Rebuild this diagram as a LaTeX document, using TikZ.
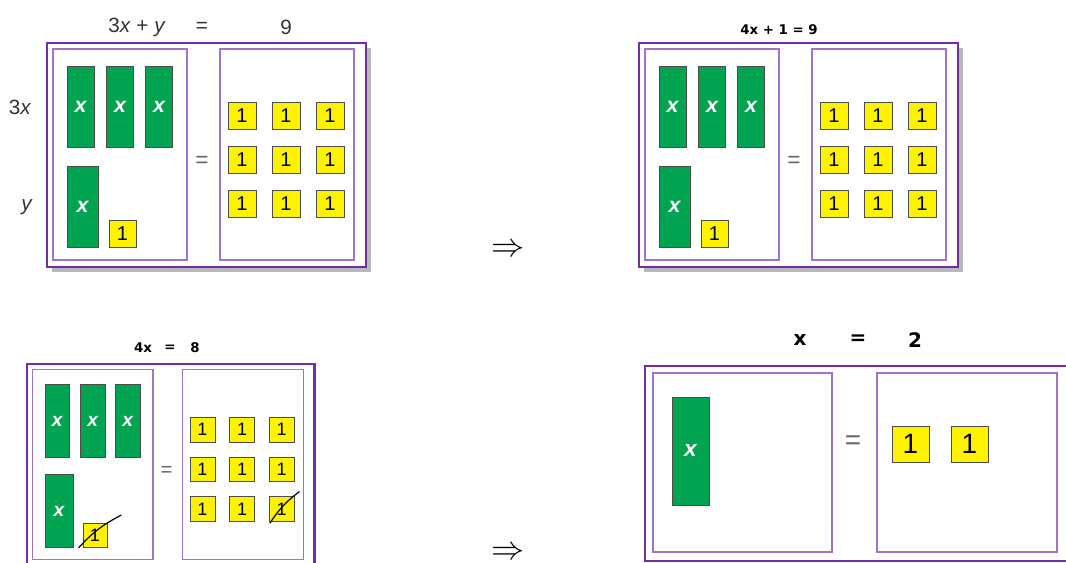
\documentclass[tikz,border=0pt]{standalone}
\usepackage{fontspec}
\setmainfont{Liberation Sans}
\newfontfamily\vfont{DejaVu Sans}
\usepackage{tikz}
\usetikzlibrary{positioning, calc}
\definecolor{framepurple}{RGB}{112,48,160}
\definecolor{boxpurple}{RGB}{160,115,200}
\definecolor{tilegreen}{RGB}{0,163,80}
\definecolor{tileyellow}{RGB}{255,242,0}
\definecolor{shadowgray}{RGB}{185,185,185}
%% one balance: 3x + x + 1 on the left, nine units on the right
\newcommand{\balance}{%
  \draw[outerbox](0,0)rectangle(319,224);
  \draw[innerbox](6,6)rectangle(140,217);
  \draw[innerbox](173,6)rectangle(307,217);
  \node[xtile](x1)at(33.5,63.5){x};
  \node[xtile](x2)at(73,63.5){x};
  \node[xtile](x3)at(112,63.5){x};
  \node[xtile,minimum width=23.25pt](x4)at(35.5,163.5){x};
  \node[unittile,minimum width=20.25pt](u)at(75.5,190.5){1};
  \foreach \i in {0,1,2}{\foreach \j in {0,1,2}{
    \node[unittile](u\i\j)at(195+44*\i,73+44*\j){1};}}
  \node[eqsign](eq)at(155,119){=};}

\begin{document}
\begin{tikzpicture}[x=0.75pt,y=-0.75pt,
  outerbox/.style={draw=framepurple,line width=2.2pt,fill=white},
  innerbox/.style={draw=boxpurple,line width=0.8pt},
  xtile/.style={draw=black!70,fill=tilegreen,minimum width=20.25pt,minimum height=60.75pt,
    inner sep=0pt,text=white,font=\fontsize{16}{16}\selectfont\bfseries\itshape},
  unittile/.style={draw=black!70,fill=tileyellow,minimum width=21pt,minimum height=20.25pt,
    inner sep=0pt,font=\fontsize{15}{15}\selectfont},
  eqsign/.style={text=black!60,font=\fontsize{17}{17}\selectfont},
  sidetext/.style={text=black!80,font=\fontsize{15.5}{16}\selectfont},
  strike/.style={line width=0.9pt}]
  \useasboundingbox(0,0)rectangle(1066,563);
  %% 3x + y = 9
  \begin{scope}[shift={(47,43)},name prefix=a-]
    \fill[shadowgray](5,5)rectangle(324,229);
    \balance
  \end{scope}
  \node[sidetext](lhsA)at(137,27){3\textit{x} + \textit{y}};
  \node[sidetext](eqA)at(202,27){=};
  \node[sidetext](rhsA)at(286,27){9};
  \node[sidetext](rowx)at(20,107){3\textit{x}};
  \node[sidetext](rowy)at(27,207){\textit{y}};
  \node[font=\fontsize{23}{23}\selectfont](arrA)at(508,250){$\Rightarrow$};
  %% 4x + 1 = 9
  \begin{scope}[shift={(639,43)},name prefix=b-]
    \fill[shadowgray](5,5)rectangle(324,229);
    \balance
  \end{scope}
  \node[font=\vfont\bfseries\fontsize{10}{11}\selectfont](titleB)at(779,30){4x + 1 = 9};
  %% 4x = 8
  \begin{scope}[shift={(27,364)},scale=0.9,transform shape,name prefix=c-]
    \balance
  \end{scope}
  \draw[strike]($(c-u.south west)+(-4,0)$)to[bend left=10]($(c-u.north east)+(14,-8)$);
  \draw[strike]($(c-u22.south west)+(1,2)$)to[bend left=10]($(c-u22.north east)+(5,-5)$);
  \node[font=\vfont\bfseries\fontsize{10}{11}\selectfont](lhsC)at(143,348){4x};
  \node[font=\vfont\bfseries\fontsize{10}{11}\selectfont](eqC)at(170,348){=};
  \node[font=\vfont\bfseries\fontsize{10}{11}\selectfont](rhsC)at(195,348){8};
  \node[font=\fontsize{23}{23}\selectfont](arrB)at(508,553){$\Rightarrow$};
  %% x = 2
  \draw[outerbox](645,366)rectangle(1072,561);
  \draw[innerbox](653,373)rectangle(832,552);
  \draw[innerbox](877,373)rectangle(1057,552);
  \node[xtile,minimum width=27.75pt,minimum height=81pt,
    font=\fontsize{17}{17}\selectfont\bfseries\itshape](dx)at(690.5,451){x};
  \node[unittile,minimum width=27.75pt,minimum height=27pt,
    font=\fontsize{21}{21}\selectfont](d1)at(910.5,444){1};
  \node[unittile,minimum width=27.75pt,minimum height=27pt,
    font=\fontsize{21}{21}\selectfont](d2)at(969.5,444){1};
  \node[eqsign,font=\fontsize{21}{21}\selectfont](deq)at(853,443){=};
  \node[font=\vfont\bfseries\fontsize{15}{16}\selectfont](lhsD)at(800,340){x};
  \node[font=\vfont\bfseries\fontsize{15}{16}\selectfont](eqD)at(858,340){=};
  \node[font=\vfont\bfseries\fontsize{15}{16}\selectfont](rhsD)at(915,340){2};
\end{tikzpicture}
\end{document}
